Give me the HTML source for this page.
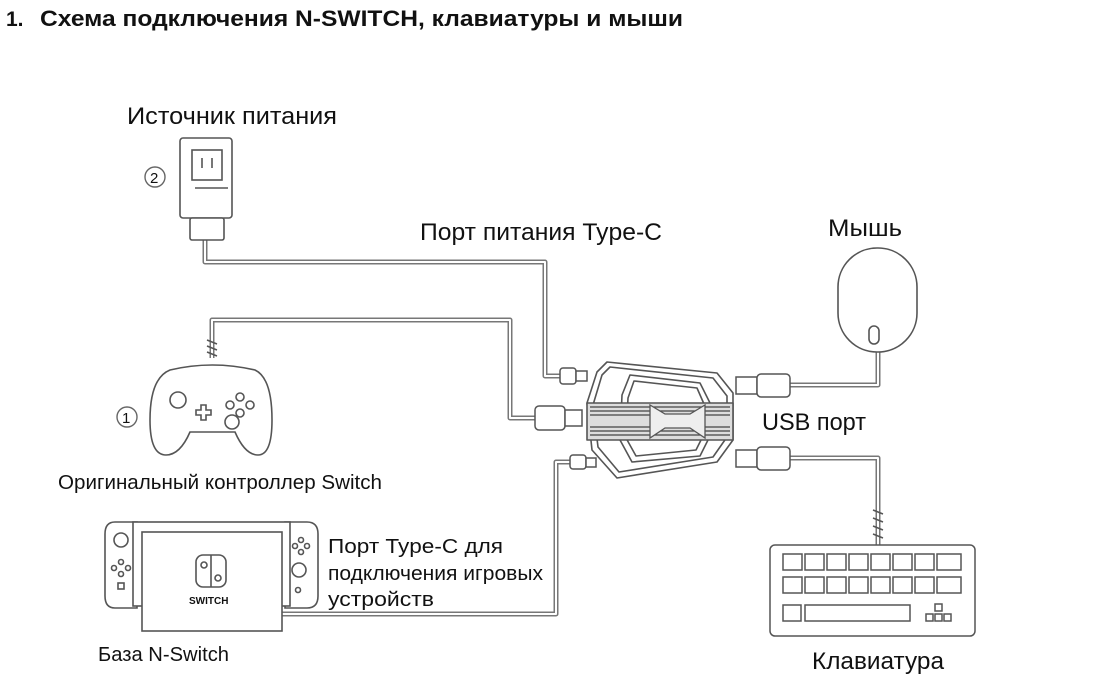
<!DOCTYPE html>
<html><head><meta charset="utf-8"><style>
html,body{margin:0;padding:0;background:#fff;}
svg{display:block;}
text{font-family:"Liberation Sans","DejaVu Sans",sans-serif;fill:#111;}
</style></head><body>
<svg width="1096" height="688" viewBox="0 0 1096 688" xmlns="http://www.w3.org/2000/svg">
<rect width="1096" height="688" fill="#fff"/>
<text x="6" y="26" font-size="21" font-weight="bold">1.</text>
<text x="40" y="26" font-size="22" font-weight="bold" textLength="643" lengthAdjust="spacingAndGlyphs">Схема подключения N-SWITCH, клавиатуры и мыши</text>

<text x="127" y="124" font-size="24" textLength="210" lengthAdjust="spacingAndGlyphs">Источник питания</text>
<text x="420" y="240" font-size="24" textLength="242" lengthAdjust="spacingAndGlyphs">Порт питания Type-C</text>
<text x="828" y="236" font-size="24" textLength="74" lengthAdjust="spacingAndGlyphs">Мышь</text>
<text x="762" y="430" font-size="24" textLength="104" lengthAdjust="spacingAndGlyphs">USB порт</text>
<text x="58" y="489" font-size="20" textLength="324" lengthAdjust="spacingAndGlyphs">Оригинальный контроллер Switch</text>
<text x="328" y="553" font-size="20" textLength="175" lengthAdjust="spacingAndGlyphs">Порт Type-C для</text>
<text x="328" y="580" font-size="20" textLength="215" lengthAdjust="spacingAndGlyphs">подключения игровых</text>
<text x="328" y="606" font-size="20" textLength="106" lengthAdjust="spacingAndGlyphs">устройств</text>
<text x="98" y="661" font-size="20" textLength="131" lengthAdjust="spacingAndGlyphs">База N-Switch</text>
<text x="812" y="669" font-size="24" textLength="132" lengthAdjust="spacingAndGlyphs">Клавиатура</text>

<!-- cables -->
<g fill="none" stroke-linejoin="round">
<g stroke="#777" stroke-width="5">
<polyline points="205,240 205,262 545,262 545,376 560,376"/>
<polyline points="212,358 212,320 510,320 510,418 535,418"/>
<polyline points="282,614 556,614 556,462 570,462"/>
<polyline points="790,385 878,385 878,350"/>
<polyline points="790,458 878,458 878,545"/>
</g>
<g stroke="#fff" stroke-width="2">
<polyline points="205,240 205,262 545,262 545,376 560,376"/>
<polyline points="212,358 212,320 510,320 510,418 535,418"/>
<polyline points="282,614 556,614 556,462 570,462"/>
<polyline points="790,385 878,385 878,350"/>
<polyline points="790,458 878,458 878,545"/>
</g>
</g>
<g fill="#fff" stroke="#555" stroke-width="1.5">
<rect x="560" y="368" width="16" height="16" rx="3"/><rect x="576" y="371" width="11" height="10"/>
<rect x="535" y="406" width="30" height="24" rx="4"/><rect x="565" y="410" width="17" height="16"/>
<rect x="570" y="455" width="16" height="14" rx="3"/><rect x="586" y="458" width="10" height="9"/>
<rect x="736" y="377" width="21" height="17"/><rect x="757" y="374" width="33" height="23" rx="4"/>
<rect x="736" y="450" width="21" height="17"/><rect x="757" y="447" width="33" height="23" rx="4"/>
</g>
<g stroke="#555" stroke-width="1.5"><path d="M207,340 l10,4 M207,346 l10,4 M207,352 l10,4 M873,510 l10,4 M873,518 l10,4 M873,526 l10,4 M873,534 l10,4"/></g>

<!-- device -->
<g fill="#fff" stroke="#555" stroke-width="1.6" stroke-linejoin="round">
<path d="M597,372 L607,362 L717,373 L733,393 L733,440 L717,462 L617,478 L592,450 L587,403 Z"/>
<path d="M602,375 L610,367 L713,378 L727,396 L727,437 L713,457 L619,472 L598,447 L593,405 Z"/>
<path d="M622,395 L630,375 L700,383 L710,403 L710,436 L700,456 L632,462 L620,440 Z"/>
<path d="M628,398 L634,381 L697,388 L704,404 L704,434 L696,450 L636,456 L626,438 Z"/>
<rect x="587" y="403" width="146" height="37" fill="#ddd"/>
</g>
<g stroke="#444" stroke-width="1.2">
<line x1="590" y1="407" x2="730" y2="407"/><line x1="590" y1="411" x2="730" y2="411"/>
<line x1="590" y1="415" x2="730" y2="415"/><line x1="590" y1="427" x2="730" y2="427"/>
<line x1="590" y1="431" x2="730" y2="431"/><line x1="590" y1="435" x2="730" y2="435"/>
</g>
<path d="M650,405 L665,414 L690,414 L705,405 L705,438 L690,428 L665,428 L650,438 Z" fill="#eee" stroke="#555" stroke-width="1.3"/>

<!-- power plug -->
<g fill="#fff" stroke="#555" stroke-width="1.6">
<rect x="180" y="138" width="52" height="80" rx="3"/>
<rect x="192" y="150" width="30" height="30"/>
<rect x="190" y="218" width="34" height="22" rx="2"/>
<line x1="202" y1="158" x2="202" y2="168"/><line x1="212" y1="158" x2="212" y2="168"/>
<line x1="195" y1="188" x2="228" y2="188"/>
</g>
<circle cx="155" cy="177" r="10" fill="none" stroke="#666" stroke-width="1.4"/>
<text x="150" y="183" font-size="15" fill="#666">2</text>

<!-- controller -->
<circle cx="127" cy="417" r="10" fill="none" stroke="#666" stroke-width="1.4"/>
<text x="122" y="423" font-size="15" fill="#666">1</text>
<g fill="#fff" stroke="#555" stroke-width="1.6">
<path d="M170,370 Q212,360 255,370 Q272,378 272,420 Q272,455 258,455 Q245,455 235,432 L190,432 Q180,455 166,455 Q150,455 150,420 Q150,378 170,370 Z"/>
<circle cx="178" cy="400" r="8"/><circle cx="232" cy="422" r="7"/>
<path d="M196,410 h5 v-5 h5 v5 h5 v5 h-5 v5 h-5 v-5 h-5 Z"/>
<circle cx="240" cy="397" r="4"/><circle cx="250" cy="405" r="4"/><circle cx="230" cy="405" r="4"/><circle cx="240" cy="413" r="4"/>
</g>

<!-- switch base -->
<g fill="#fff" stroke="#555" stroke-width="1.6">
<path d="M115,522 h22 v86 h-22 q-10,0 -10,-12 v-62 q0,-12 10,-12 Z"/>
<path d="M285,522 h22 q11,0 11,12 v62 q0,12 -11,12 h-22 Z"/>
<rect x="133" y="522" width="157" height="84"/>
<rect x="142" y="532" width="140" height="99"/>
<circle cx="121" cy="540" r="7"/><circle cx="121" cy="562" r="2.5"/><circle cx="114" cy="568" r="2.5"/><circle cx="128" cy="568" r="2.5"/><circle cx="121" cy="574" r="2.5"/><rect x="118" y="583" width="6" height="6"/>
<circle cx="301" cy="540" r="2.5"/><circle cx="295" cy="546" r="2.5"/><circle cx="307" cy="546" r="2.5"/><circle cx="301" cy="552" r="2.5"/><circle cx="299" cy="570" r="7"/><circle cx="298" cy="590" r="2.5"/>
<rect x="196" y="555" width="30" height="32" rx="7"/>
<line x1="211" y1="555" x2="211" y2="587"/>
<circle cx="204" cy="565" r="3"/><circle cx="218" cy="578" r="3"/>
</g>
<text x="189" y="604" font-size="10" font-weight="bold" fill="#555">SWITCH</text>

<!-- mouse -->
<g fill="#fff" stroke="#555" stroke-width="1.6">
<rect x="838" y="248" width="79" height="104" rx="39"/>
<rect x="869" y="326" width="10" height="18" rx="5"/>
</g>

<!-- keyboard -->
<g fill="#fff" stroke="#555" stroke-width="1.5">
<rect x="770" y="545" width="205" height="91" rx="5"/>
<rect x="783" y="554" width="19" height="16"/><rect x="805" y="554" width="19" height="16"/><rect x="827" y="554" width="19" height="16"/><rect x="849" y="554" width="19" height="16"/><rect x="871" y="554" width="19" height="16"/><rect x="893" y="554" width="19" height="16"/><rect x="915" y="554" width="19" height="16"/><rect x="937" y="554" width="24" height="16"/>
<rect x="783" y="577" width="19" height="16"/><rect x="805" y="577" width="19" height="16"/><rect x="827" y="577" width="19" height="16"/><rect x="849" y="577" width="19" height="16"/><rect x="871" y="577" width="19" height="16"/><rect x="893" y="577" width="19" height="16"/><rect x="915" y="577" width="19" height="16"/><rect x="937" y="577" width="24" height="16"/>
<rect x="783" y="605" width="18" height="16"/><rect x="805" y="605" width="105" height="16"/>
<rect x="935" y="604" width="7" height="7"/><rect x="935" y="614" width="7" height="7"/><rect x="944" y="614" width="7" height="7"/><rect x="926" y="614" width="7" height="7"/>
</g>
</svg>
</body></html>
